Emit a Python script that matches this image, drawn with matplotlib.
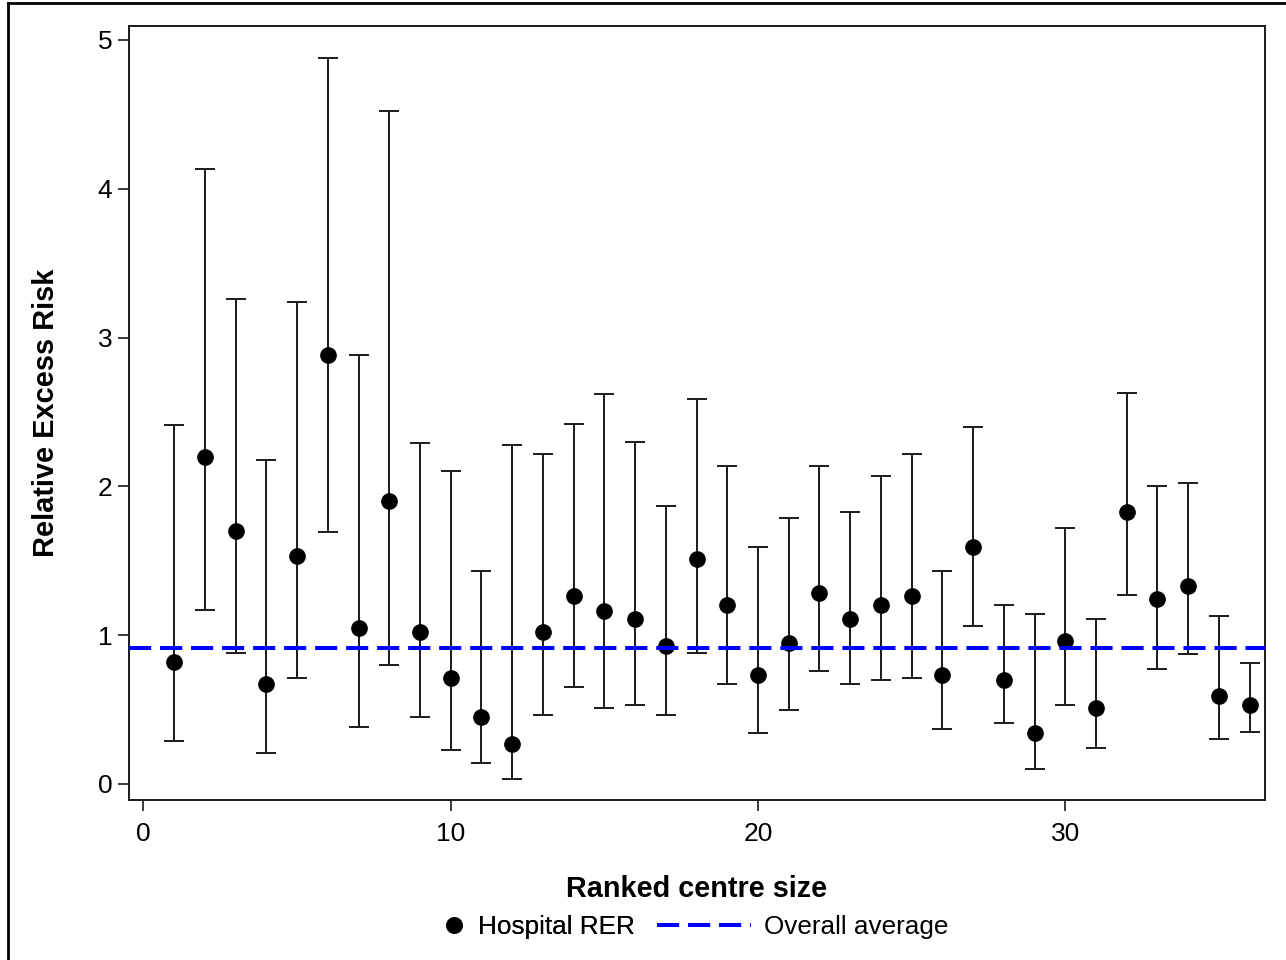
import matplotlib
matplotlib.use("Agg")
import matplotlib.pyplot as plt
from matplotlib.lines import Line2D

plt.rcParams['font.family'] = ['Liberation Sans', 'DejaVu Sans']

# centre rank, relative excess risk and its interval
rank = list(range(1, 37))
rer = [0.82, 2.20, 1.70, 0.67, 1.53, 2.88, 1.05, 1.90, 1.02, 0.71,
       0.45, 0.27, 1.02, 1.26, 1.16, 1.11, 0.93, 1.51, 1.20, 0.73,
       0.95, 1.28, 1.11, 1.20, 1.26, 0.73, 1.59, 0.70, 0.34, 0.96,
       0.51, 1.83, 1.24, 1.33, 0.59, 0.53]
lower = [0.29, 1.17, 0.88, 0.21, 0.71, 1.69, 0.38, 0.80, 0.45, 0.23,
         0.14, 0.03, 0.46, 0.65, 0.51, 0.53, 0.46, 0.88, 0.67, 0.34,
         0.50, 0.76, 0.67, 0.70, 0.71, 0.37, 1.06, 0.41, 0.10, 0.53,
         0.24, 1.27, 0.77, 0.87, 0.30, 0.35]
upper = [2.41, 4.13, 3.26, 2.18, 3.24, 4.88, 2.88, 4.52, 2.29, 2.10,
         1.43, 2.28, 2.22, 2.42, 2.62, 2.30, 1.87, 2.59, 2.14, 1.59,
         1.79, 2.14, 1.83, 2.07, 2.22, 1.43, 2.40, 1.20, 1.14, 1.72,
         1.11, 2.63, 2.00, 2.02, 1.13, 0.81]
overall_avg = 0.914

W, H = 1286, 960
fig = plt.figure(figsize=(W / 100, H / 100), dpi=100)
ax = fig.add_axes([129 / W, 1 - 800 / H, (1265 - 129) / W, (800 - 26) / H])

yerr = [[r - lo for r, lo in zip(rer, lower)], [up - r for r, up in zip(rer, upper)]]
ax.errorbar(rank, rer, yerr=yerr, fmt='none', ecolor='#1a1a1a',
            elinewidth=1.4, capsize=7, capthick=1.4, zorder=2)
pts, = ax.plot(rank, rer, 'o', color='black', markersize=11, zorder=3,
               label='Hospital RER')
avg = ax.axhline(overall_avg, color='#0000FF', lw=2.9, dashes=(5.5, 2.2),
                 zorder=4, label='Overall average')

ax.set_xlim(-0.47, 36.5)
ax.set_ylim(-0.108, 5.094)
ax.set_xticks([0, 10, 20, 30])
ax.set_yticks([0, 1, 2, 3, 4, 5])
ax.tick_params(axis='both', direction='out', length=8, width=1.2,
               labelsize=19, color='#1a1a1a')
ax.tick_params(axis='x', pad=8)
ax.tick_params(axis='y', pad=4)
for sp in ax.spines.values():
    sp.set_linewidth(1.4)
    sp.set_color('#1a1a1a')

fig.text(697 / W, 1 - 897 / H, 'Ranked centre size', ha='center',
         va='baseline', fontsize=20.8, fontweight='bold')
fig.text(54 / W, 1 - 413 / H, 'Relative Excess Risk', ha='center',
         va='baseline', rotation=90, rotation_mode='anchor',
         fontsize=20.9, fontweight='bold')

# legend in two parts so the marker and the dashed sample get their own widths
leg1 = fig.legend(handles=[pts], loc='center left',
                  bbox_to_anchor=(441 / W, 1 - 927 / H), frameon=False,
                  fontsize=18.8, handlelength=1.0, handletextpad=0.4,
                  borderpad=0, borderaxespad=0)
leg2 = fig.legend(handles=[avg], loc='center left',
                  bbox_to_anchor=(657 / W, 1 - 927 / H), frameon=False,
                  fontsize=18.8, handlelength=3.6, handletextpad=0.5,
                  borderpad=0, borderaxespad=0)
fig.add_artist(leg1)

# outer frame (only left and top edges fall inside the picture)
fig.add_artist(Line2D([8 / W, 8 / W], [0, 1 - 3 / H], transform=fig.transFigure,
                      color='black', lw=2))
fig.add_artist(Line2D([8 / W, 1], [1 - 3 / H, 1 - 3 / H], transform=fig.transFigure,
                      color='black', lw=2))

fig.savefig('out.png', dpi=100)
